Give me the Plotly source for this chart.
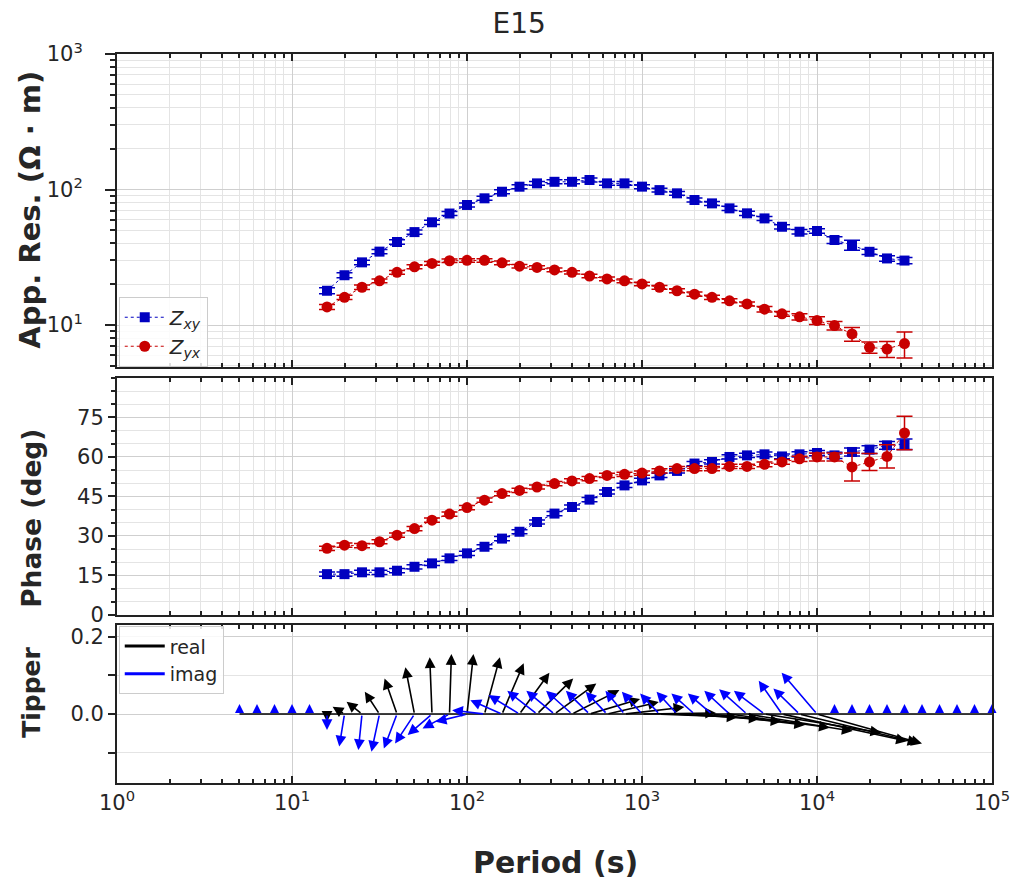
import math
import plotly.graph_objects as go

station = "E15"

# ---- impedance data -------------------------------------------------------
period = [15.85, 19.95, 25.12, 31.62, 39.81, 50.12, 63.10, 79.43, 100.0, 125.9,
          158.5, 199.5, 251.2, 316.2, 398.1, 501.2, 631.0, 794.3, 1000.0, 1259.0,
          1585.0, 1995.0, 2512.0, 3162.0, 3981.0, 5012.0, 6310.0, 7943.0, 10000.0, 12589.0,
          15849.0, 19953.0, 25119.0, 31623.0]

rho_xy = [17.9, 23.3, 29.0, 34.8, 41.0, 48.5, 57.3, 66.5, 76.9, 86.1,
          96.3, 104.9, 111.0, 114.0, 114.0, 117.5, 111.0, 111.0, 105.0, 99.0,
          93.7, 83.7, 79.0, 72.6, 66.7, 61.2, 53.1, 48.8, 49.4, 42.4,
          38.9, 34.7, 31.0, 29.9]
rho_xy_err = [0.9, 1.0, 1.1, 1.3, 1.5, 1.7, 2.0, 2.3, 2.6, 2.9,
              3.2, 3.5, 3.7, 3.8, 3.8, 3.9, 3.7, 3.7, 3.5, 3.3,
              3.1, 2.8, 2.7, 2.5, 2.3, 2.1, 1.9, 1.8, 1.9, 2.4,
              3.3, 1.6, 1.5, 1.6]

rho_yx = [13.6, 16.0, 19.0, 21.2, 24.5, 26.9, 28.5, 29.8, 30.0, 30.0,
          28.8, 27.2, 26.6, 25.5, 24.5, 23.0, 21.9, 21.2, 20.1, 19.0,
          17.9, 16.9, 16.0, 15.1, 14.3, 13.1, 12.1, 11.5, 10.8, 9.9,
          8.6, 6.85, 6.65, 7.3]
rho_yx_err = [0.6, 0.6, 0.7, 0.7, 0.8, 0.9, 0.9, 0.9, 0.9, 0.9,
              0.9, 0.8, 0.8, 0.8, 0.7, 0.7, 0.7, 0.7, 0.6, 0.6,
              0.6, 0.6, 0.6, 0.5, 0.5, 0.6, 0.5, 0.6, 0.7, 0.7,
              1.0, 0.65, 0.9, 1.6]

phase_xy = [15.5, 15.5, 16.2, 16.2, 16.8, 18.3, 19.6, 21.5, 23.4, 25.9,
            29.0, 31.6, 35.3, 38.5, 41.0, 43.8, 46.7, 49.2, 51.1, 53.0,
            54.7, 57.5, 58.1, 60.0, 60.6, 61.0, 60.2, 61.0, 61.5, 60.6,
            61.9, 62.8, 64.4, 64.8]
phase_xy_err = [0.8, 0.8, 0.8, 0.8, 0.8, 0.8, 0.8, 0.8, 0.8, 0.8,
                0.8, 0.8, 0.8, 0.8, 0.8, 0.8, 0.8, 0.8, 0.8, 0.8,
                0.8, 0.8, 0.8, 0.8, 0.8, 0.9, 0.9, 1.0, 1.0, 1.2,
                1.5, 1.5, 1.5, 2.0]

phase_yx = [25.3, 26.5, 26.3, 27.8, 30.3, 32.8, 36.0, 38.3, 40.8, 43.6,
            46.1, 47.3, 48.6, 49.9, 50.9, 51.8, 53.0, 53.4, 53.9, 54.7,
            55.6, 55.6, 55.6, 56.4, 56.4, 57.2, 58.1, 59.3, 60.0, 60.0,
            56.2, 58.1, 60.2, 69.1]
phase_yx_err = [0.8, 0.8, 0.8, 0.8, 0.8, 0.8, 0.8, 0.8, 0.8, 0.8,
                0.8, 0.8, 0.8, 0.8, 0.8, 0.8, 0.8, 0.8, 0.8, 0.8,
                0.8, 0.8, 0.8, 0.8, 0.8, 0.9, 0.9, 1.0, 1.5, 1.5,
                5.3, 3.2, 4.4, 6.4]

# ---- tipper data (arrow components: dx in decades of period, dy in tipper units)
tip_period = [5.012, 6.310, 7.943, 10.0, 12.59,
              15.85, 19.95, 25.12, 31.62, 39.81, 50.12, 63.10, 79.43, 100.0, 125.9,
              158.5, 199.5, 251.2, 316.2, 398.1, 501.2, 631.0, 794.3, 1000.0, 1259.0,
              1585.0, 1995.0, 2512.0, 3162.0, 3981.0, 5012.0, 6310.0, 7943.0, 10000.0,
              12589.0, 15849.0, 19953.0, 25119.0, 31623.0, 39811.0, 50119.0, 63096.0,
              79433.0, 100000.0]

re_dx = [0.0, 0.0, 0.0, 0.0, 0.0,
         0.0, -0.068, -0.088, -0.084, -0.071, -0.052, -0.013, 0.011, 0.037, 0.088,
         0.124, 0.171, 0.207, 0.239, 0.271, 0.289, 0.296, 0.342, 0.423, 0.446,
         0.472, 0.497, 0.532, 0.573, 0.604, 0.667, 0.714, 0.680, 0.600,
         0.0, 0.0, 0.0, 0.0, 0.0, 0.0, 0.0, 0.0, 0.0, 0.0]
re_dy = [0.0, 0.0, 0.0, 0.0, 0.0,
         -0.02, 0.019, 0.032, 0.058, 0.092, 0.121, 0.147, 0.155, 0.155, 0.147,
         0.131, 0.107, 0.092, 0.079, 0.062, 0.039, 0.031, 0.018, 0.003, -0.008,
         -0.012, -0.019, -0.028, -0.035, -0.044, -0.048, -0.070, -0.075, -0.076,
         0.0, 0.0, 0.0, 0.0, 0.0, 0.0, 0.0, 0.0, 0.0, 0.0]
im_dx = [0.0, 0.0, 0.0, 0.0, 0.0,
         0.0, -0.030, -0.021, -0.046, -0.075, -0.111, -0.139, -0.154, -0.179, -0.185,
         -0.181, -0.177, -0.170, -0.161, -0.148, -0.135, -0.122, -0.109, -0.115, -0.111,
         -0.117, -0.132, -0.138, -0.144, -0.159, -0.175, -0.133, -0.149, -0.202,
         0.0, 0.0, 0.0, 0.0, 0.0, 0.0, 0.0, 0.0, 0.0, 0.0]
im_dy = [0.0, 0.0, 0.0, 0.0, 0.0,
         -0.041, -0.084, -0.093, -0.097, -0.089, -0.076, -0.054, -0.037, -0.020, 0.010,
         0.036, 0.049, 0.060, 0.060, 0.060, 0.060, 0.058, 0.060, 0.058, 0.053,
         0.058, 0.053, 0.053, 0.060, 0.064, 0.060, 0.086, 0.066, 0.107,
         0.0, 0.0, 0.0, 0.0, 0.0, 0.0, 0.0, 0.0, 0.0, 0.0]

# ---- styling --------------------------------------------------------------
FONT = "DejaVu Sans"
TXT = "#262626"
BLUE = "#0000C0"
RED = "#C80000"
IMAG = "#0000FF"
GRID = "#cfcfcf"
GRID_MINOR = "#e4e4e4"
AXLINE = "#222222"

x_major = [1, 10, 100, 1000, 10000, 100000]
x_text = ["10<sup>%d</sup>" % e for e in range(6)]
x_minor = [m * 10 ** e for e in range(5) for m in range(2, 10)]
rho_minor = [m * 10 ** e for e in range(0, 3) for m in range(2, 10)]

fig = go.Figure()

# apparent resistivity
fig.add_trace(go.Scatter(
    x=period, y=rho_xy, mode="lines+markers", name="<i>Z</i><sub><i>xy</i></sub>",
    line=dict(color=BLUE, width=1, dash="dot"),
    marker=dict(symbol="square", size=10, color=BLUE),
    error_y=dict(type="data", array=rho_xy_err, color=BLUE, thickness=1.5, width=8),
    xaxis="x", yaxis="y", legend="legend"))
fig.add_trace(go.Scatter(
    x=period, y=rho_yx, mode="lines+markers", name="<i>Z</i><sub><i>yx</i></sub>",
    line=dict(color=RED, width=1, dash="dot"),
    marker=dict(symbol="circle", size=11, color=RED),
    error_y=dict(type="data", array=rho_yx_err, color=RED, thickness=1.5, width=8),
    xaxis="x", yaxis="y", legend="legend"))

# phase
fig.add_trace(go.Scatter(
    x=period, y=phase_xy, mode="lines+markers", showlegend=False,
    line=dict(color=BLUE, width=1, dash="dot"),
    marker=dict(symbol="square", size=10, color=BLUE),
    error_y=dict(type="data", array=phase_xy_err, color=BLUE, thickness=1.5, width=8),
    xaxis="x2", yaxis="y2"))
fig.add_trace(go.Scatter(
    x=period, y=phase_yx, mode="lines+markers", showlegend=False,
    line=dict(color=RED, width=1, dash="dot"),
    marker=dict(symbol="circle", size=11, color=RED),
    error_y=dict(type="data", array=phase_yx_err, color=RED, thickness=1.5, width=8),
    xaxis="x2", yaxis="y2"))

# tipper baseline
fig.add_trace(go.Scatter(
    x=tip_period, y=[0.0] * len(tip_period), mode="lines", showlegend=False,
    line=dict(color="black", width=1.5), hoverinfo="skip",
    xaxis="x3", yaxis="y3"))

# zero-length tipper vectors are drawn as bare, upward arrow heads
zero_T = [T for T, dx, dy in zip(tip_period, im_dx, im_dy) if dx == 0 and dy == 0]
fig.add_trace(go.Scatter(
    x=zero_T, y=[0.0] * len(zero_T), mode="markers", showlegend=False,
    marker=dict(symbol="arrow-down", size=9, color=IMAG, angle=180, standoff=10,
                line=dict(width=0)),
    cliponaxis=False, hoverinfo="skip", xaxis="x3", yaxis="y3"))

# legend entries for the tipper panel
fig.add_trace(go.Scatter(x=[None], y=[None], mode="lines", name="real",
                         line=dict(color="black", width=3),
                         xaxis="x3", yaxis="y3", legend="legend2"))
fig.add_trace(go.Scatter(x=[None], y=[None], mode="lines", name="imag",
                         line=dict(color=IMAG, width=3),
                         xaxis="x3", yaxis="y3", legend="legend2"))

annotations = []
for comp_dx, comp_dy, col in ((re_dx, re_dy, "black"), (im_dx, im_dy, IMAG)):
    for T, dx, dy in zip(tip_period, comp_dx, comp_dy):
        if dx == 0 and dy == 0:
            continue
        lx = math.log10(T)
        annotations.append(dict(
            x=lx + dx, y=dy, ax=lx, ay=0.0,
            xref="x3", yref="y3", axref="x3", ayref="y3",
            text="", showarrow=True, arrowhead=2, arrowsize=1.35,
            arrowwidth=1.6, arrowcolor=col, standoff=0, startstandoff=0))

# axis titles, placed in paper coordinates
def axis_title(text, x, y, size, angle):
    return dict(text=text, x=x, y=y, xref="paper", yref="paper",
                xanchor="center", yanchor="middle", showarrow=False,
                textangle=angle,
                font=dict(family=FONT, size=size, color=TXT, weight="bold"))

annotations += [
    axis_title("App. Res. (Ω · m)", -0.0997, 0.786, 29, -90),
    axis_title("Phase (deg)", -0.0985, 0.3635, 26.5, -90),
    axis_title("Tipper", -0.0985, 0.1248, 25, -90),
    axis_title("Period (s)", 0.5006, -0.1084, 30, 0),
]

axis_common = dict(showline=True, linecolor=AXLINE, linewidth=2,
                   tickfont=dict(family=FONT, size=21, color=TXT),
                   tickcolor=AXLINE, zeroline=False)

x_common = dict(axis_common, type="log", range=[0, 5], tickmode="array",
                tickvals=x_major, ticktext=x_text, ticks="inside", ticklen=7,
                tickwidth=1.5, mirror="ticks", showgrid=True, gridcolor=GRID,
                gridwidth=1)

fig.update_layout(
    width=1022, height=886,
    margin=dict(l=117, r=22, t=54, b=103),
    paper_bgcolor="white", plot_bgcolor="white",
    font=dict(family=FONT, color=TXT),
    title=dict(text=station, x=0.508, xref="container", xanchor="center",
               y=0.974, yref="container", yanchor="middle",
               font=dict(family=FONT, size=28, color=TXT)),
    xaxis=dict(x_common, domain=[0, 1], anchor="y", showticklabels=False,
               minor=dict(tickvals=x_minor, ticks="inside", ticklen=4,
                          tickcolor=AXLINE, showgrid=True, gridcolor=GRID_MINOR)),
    xaxis2=dict(x_common, domain=[0, 1], anchor="y2", matches="x",
                showticklabels=False,
                minor=dict(tickvals=x_minor, ticks="inside", ticklen=4,
                           tickcolor=AXLINE, showgrid=True, gridcolor=GRID_MINOR)),
    xaxis3=dict(x_common, domain=[0, 1], anchor="y3", matches="x",
                showticklabels=True,
                minor=dict(tickvals=x_minor, ticks="inside", ticklen=4,
                           tickcolor=AXLINE, showgrid=False)),
    yaxis=dict(axis_common, domain=[0.5706, 1.0], anchor="x", type="log",
               range=[0.69, 3.0], tickmode="array", tickvals=[10, 100, 1000],
               ticktext=["10<sup>1</sup>", "10<sup>2</sup>", "10<sup>3</sup>"],
               ticks="outside", ticklen=10, tickwidth=1.5, mirror=True,
               ticklabelstandoff=18,
               showgrid=True, gridcolor=GRID,
               minor=dict(tickvals=rho_minor, ticks="outside", ticklen=5,
                          tickcolor=AXLINE, showgrid=True, gridcolor=GRID_MINOR)),
    yaxis2=dict(axis_common, domain=[0.2305, 0.5556], anchor="x2",
                range=[0, 90], tickmode="array", tickvals=[0, 15, 30, 45, 60, 75],
                ticks="outside", ticklen=7, tickwidth=1.5, mirror=True,
                showgrid=True, gridcolor=GRID,
                minor=dict(tickmode="linear", tick0=0, dtick=5, ticks="outside",
                           ticklen=4, tickcolor=AXLINE, showgrid=True,
                           gridcolor=GRID_MINOR)),
    yaxis3=dict(axis_common, domain=[0.0, 0.2167], anchor="x3",
                range=[-0.178, 0.23], tickmode="array", tickvals=[0.0, 0.2],
                ticktext=["0.0", "0.2"],
                ticks="outside", ticklen=7, tickwidth=1.5, mirror=True,
                showgrid=True, gridcolor=GRID,
                minor=dict(tickmode="linear", tick0=0, dtick=0.1, ticks="outside",
                           ticklen=7, tickcolor=AXLINE, showgrid=True,
                           gridcolor=GRID_MINOR)),
    legend=dict(x=0.002, xanchor="left", y=0.571, yanchor="bottom",
                bgcolor="rgba(255,255,255,0.85)", bordercolor="#cccccc",
                borderwidth=1, font=dict(family=FONT, size=20, color=TXT),
                itemwidth=40, tracegroupgap=0),
    legend2=dict(x=0.002, xanchor="left", y=0.215, yanchor="top",
                 bgcolor="rgba(255,255,255,0.85)", bordercolor="#cccccc",
                 borderwidth=1, font=dict(family=FONT, size=19, color=TXT),
                 itemwidth=40, tracegroupgap=0),
    annotations=annotations,
    showlegend=True,
)

fig.write_html("out.html")
